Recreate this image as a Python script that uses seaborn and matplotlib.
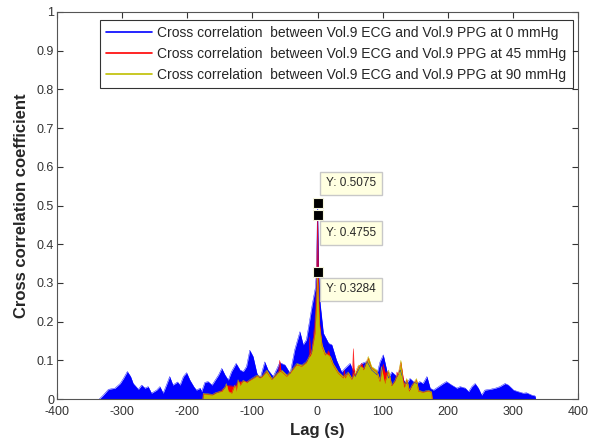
import matplotlib
matplotlib.use("Agg")
import matplotlib.pyplot as plt
import seaborn as sns
import pandas as pd
import numpy as np

# envelope of the cross correlation traces
blue_lag = [-335, -329, -321, -311, -303, -298, -292, -287, -283, -275, -270, -265, -260, -255,
            -247, -242, -237, -232, -227, -222, -215, -211, -206, -201, -196, -190, -186, -180,
            -178, -173, -168, -162, -157, -152, -147, -142, -137, -132, -125, -119, -114, -109,
            -104, -99, -93, -88, -81, -76, -68, -58, -50, -42, -35, -27, -22, -17, -12, -8, -3,
            -1.5, 0, 1.5, 4, 9, 17, 22, 29, 37, 42, 50, 58, 68, 76, 83, 91, 96, 101, 105, 109,
            114, 122, 127, 132, 137, 142, 147, 152, 157, 162, 168, 173, 178, 186, 193, 198, 206,
            214, 219, 227, 232, 237, 242, 247, 252, 257, 265, 273, 280, 288, 293, 301, 308, 316,
            321, 329, 334, 335]
blue_val = [0.0, 0.01, 0.025, 0.028, 0.04, 0.053, 0.071, 0.058, 0.04, 0.025, 0.036, 0.028, 0.032, 0.015,
            0.023, 0.032, 0.015, 0.036, 0.058, 0.036, 0.044, 0.036, 0.058, 0.068, 0.049, 0.032, 0.023, 0.028,
            0.019, 0.043, 0.045, 0.036, 0.049, 0.062, 0.079, 0.062, 0.049, 0.071, 0.092, 0.075, 0.071, 0.084,
            0.126, 0.11, 0.066, 0.054, 0.096, 0.075, 0.058, 0.094, 0.088, 0.066, 0.127, 0.174, 0.14, 0.153, 0.204, 0.245, 0.29,
            0.34, 0.5075, 0.34, 0.247, 0.17, 0.144, 0.14, 0.101, 0.07, 0.079, 0.092, 0.058, 0.092, 0.097, 0.075, 0.063, 0.096, 0.114, 0.084, 0.054,
            0.07, 0.058, 0.075, 0.049, 0.04, 0.053, 0.045, 0.04, 0.045, 0.04, 0.058, 0.028, 0.023, 0.032, 0.04, 0.045, 0.036,
            0.028, 0.032, 0.028, 0.019, 0.032, 0.04, 0.028, 0.01, 0.023, 0.025, 0.028, 0.032, 0.04, 0.036, 0.023, 0.019, 0.015,
            0.016, 0.01, 0.008, 0.0]

red_lag = [-176, -175.5, -161, -150, -142, -140, -127, -122, -114, -104, -93, -86, -78, -70, -63, -60,
           -58, -56, -55, -47, -40, -32, -24, -17, -13, -12, -11, -9, -4, -1.5, 0, 1.5, 3, 7, 12, 17,
           20, 24, 32, 40, 41, 43, 47, 53, 54, 55, 56, 58, 63, 68, 71, 78, 83, 91, 96, 99, 101, 103,
           109, 114, 119, 122, 124, 128, 132, 134, 137, 141, 145, 152, 155, 162, 170, 175, 176]
red_val = [0.0, 0.012, 0.01, 0.02, 0.03, 0.035, 0.033, 0.045, 0.045, 0.047, 0.058, 0.055, 0.07, 0.05, 0.062, 0.07,
           0.1, 0.07, 0.07, 0.058, 0.07, 0.088, 0.084, 0.093, 0.11, 0.16, 0.11, 0.118, 0.2, 0.3, 0.4755, 0.3, 0.2, 0.135, 0.113, 0.125,
           0.105, 0.088, 0.066, 0.054, 0.075, 0.054, 0.066, 0.05, 0.08, 0.13, 0.08, 0.06, 0.084, 0.092, 0.075, 0.105, 0.08, 0.07, 0.045, 0.07, 0.09, 0.07,
           0.07, 0.034, 0.045, 0.07, 0.062, 0.095, 0.05, 0.03, 0.05, 0.02, 0.034, 0.05, 0.02, 0.017, 0.02, 0.017, 0.0]

yellow_lag = [-176, -175.5, -161, -156, -147, -142, -140, -137, -132, -127, -125, -122, -119, -114, -109,
              -104, -93, -86, -78, -70, -63, -55, -47, -40, -32, -24, -17, -9, -4, -1.5, 0, 1.5, 3, 7,
              12, 20, 24, 32, 40, 47, 53, 63, 71, 78, 83, 91, 96, 98, 103, 109, 114, 119, 124, 128,
              132, 137, 141, 145, 152, 155, 162, 170, 175, 176]
yellow_val = [0.0, 0.015, 0.012, 0.017, 0.02, 0.032, 0.04, 0.02, 0.015, 0.036, 0.02, 0.05, 0.035, 0.049, 0.042,
              0.05, 0.062, 0.058, 0.075, 0.053, 0.066, 0.075, 0.062, 0.075, 0.092, 0.088, 0.097, 0.122, 0.17, 0.25, 0.3284, 0.25, 0.19, 0.14,
              0.118, 0.11, 0.092, 0.07, 0.058, 0.07, 0.053, 0.088, 0.079, 0.11, 0.084, 0.075, 0.049, 0.084, 0.04, 0.075, 0.036, 0.049, 0.066, 0.1,
              0.032, 0.053, 0.023, 0.036, 0.053, 0.023, 0.019, 0.023, 0.019, 0.0]

peak_val = [0.5075, 0.4755, 0.3284]
label_y = [0.557, 0.428, 0.283]

labels = ["Cross correlation  between Vol.9 ECG and Vol.9 PPG at 0 mmHg",
          "Cross correlation  between Vol.9 ECG and Vol.9 PPG at 45 mmHg",
          "Cross correlation  between Vol.9 ECG and Vol.9 PPG at 90 mmHg"]
colors = ["#0000FF", "#FF0000", "#BFBF00"]

sns.set_style("ticks")
plt.rcParams["font.family"] = ["Liberation Sans", "DejaVu Sans"]
plt.rcParams["axes.unicode_minus"] = False

fig = plt.figure(figsize=(5.89, 4.45), dpi=100)
ax = fig.add_axes([57 / 589, 46 / 445, 521 / 589, 387 / 445])

series = [(blue_lag, blue_val), (red_lag, red_val), (yellow_lag, yellow_val)]
for (lag, val), lab, col in zip(series, labels, colors):
    df = pd.DataFrame({"lag": lag, "r": val})
    ax.fill_between(df["lag"], 0, df["r"], color=col, linewidth=0)
    sns.lineplot(data=df, x="lag", y="r", ax=ax, color=col, linewidth=0.3,
                 label=lab, sort=False, legend=False)

# data cursors
for yv, ly in zip(peak_val, label_y):
    ax.plot([0], [yv], marker="s", markersize=6.5, color="black",
            markeredgecolor="#F5F5DC", markeredgewidth=0.8, zorder=5)
    ax.text(13, ly, f"Y: {yv:.4f}", fontsize=8.5, va="center", ha="left", zorder=6,
            bbox=dict(boxstyle="square,pad=0.5", fc="#FFFFE1", ec="#C8C8C8", lw=1))

ax.set_xlim(-400, 400)
ax.set_ylim(0, 1)
ax.set_xticks(np.arange(-400, 401, 100))
ax.set_yticks(np.arange(0, 1.01, 0.1))
ax.set_yticklabels(["0", "0.1", "0.2", "0.3", "0.4", "0.5", "0.6", "0.7", "0.8", "0.9", "1"])
ax.tick_params(direction="in", length=4, width=0.8, top=True, right=True,
               labelsize=9, colors="#333333", pad=2)
ax.tick_params(axis="x", pad=5)
for s in ax.spines.values():
    s.set_visible(True)
    s.set_color("#555555")
    s.set_linewidth(0.8)

ax.set_xlabel("Lag (s)", fontsize=12, fontweight="bold", labelpad=4)
ax.set_ylabel("Cross correlation coefficient", fontsize=12, fontweight="bold", labelpad=6)

handles = ax.lines[:3]
leg = ax.legend(handles, labels, loc="upper right", bbox_to_anchor=(0.99, 0.98),
                fontsize=10, frameon=True, fancybox=False, edgecolor="black",
                handlelength=3.3, handletextpad=0.4, borderpad=0.45, labelspacing=0.5,
                borderaxespad=0)
leg.get_frame().set_linewidth(0.8)
for h in leg.legend_handles:
    h.set_linewidth(1.2)

fig.savefig("out.png", dpi=100, facecolor="white")
